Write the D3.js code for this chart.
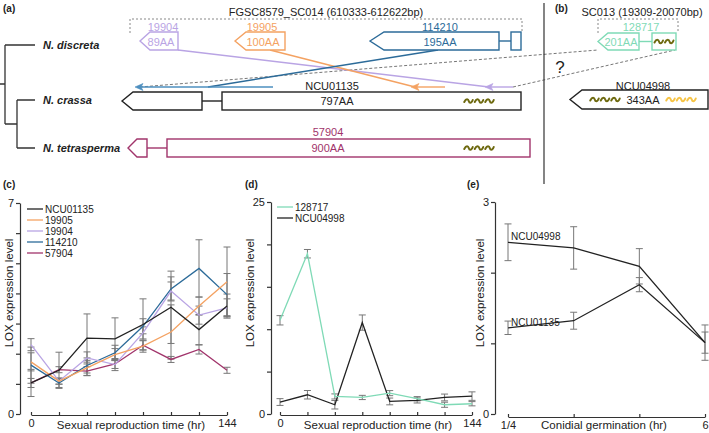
<!DOCTYPE html>
<html>
<head>
<meta charset="utf-8">
<script src="https://cdn.jsdelivr.net/npm/d3@7"></script>
<style>
  body { margin: 0; background: #fff; }
  svg { font-family: "Liberation Sans", Arial, sans-serif; }
  .axis path, .axis line { stroke: #333; }
  .axis text { font-size: 11px; fill: #222; }
</style>
</head>
<body>
<div id="fig"></div>
<script>
// ---------- data ----------
// panel (c): sexual reproduction, 8 time points from 0 to 144 hr
const cPoints = [0, 1, 2, 3, 4, 5, 6, 7];
const cTickLabels = ["0", "144"];
const cNames = ["NCU01135", "19905", "19904", "114210", "57904"];
const cNCU01135 = [1.03, 1.45, 2.52, 2.49, 2.97, 3.54, 2.8, 3.58];
const c19905 = [1.73, 1.09, 1.53, 1.97, 2.25, 2.72, 3.58, 4.39];
const c19904 = [2.3, 1.09, 1.86, 1.64, 2.69, 4.08, 3.28, 3.52];
const c114210 = [1.62, 1.03, 1.61, 2.03, 2.91, 4.15, 4.83, 3.96];
const c57904 = [1.03, 1.47, 1.42, 1.66, 2.28, 1.81, 2.14, 1.45];
const cErrNCU01135 = [0.45, 0.6, 0.8, 0.7, 0.85, 1.2, 0.5, 0.4];
const cErr19905 = [0.3, 0.1, 0.25, 0.2, 0.2, 0.9, 0.3, 1.15];
const cErr19904 = [0.2, 0.1, 0.2, 0.2, 0.2, 0.3, 0.3, 0.3];
const cErr114210 = [0.6, 0.15, 0.25, 0.25, 0.25, 0.4, 0.95, 0.7];
const cErr57904 = [0.15, 0.1, 0.15, 0.15, 0.15, 0.1, 0.15, 0.1];

// panel (d)
const dPoints = [0, 1, 2, 3, 4, 5, 6, 7];
const dTickLabels = ["0", "144"];
const dNames = ["128717", "NCU04998"];
const d128717 = [11.05, 18.9, 2.07, 1.95, 2.46, 1.8, 1.09, 1.21];
const dNCU04998 = [1.41, 2.27, 1.09, 10.78, 1.48, 1.6, 1.95, 2.11];
const dErr128717 = [0.55, 0.5, 0.3, 0.25, 0.3, 0.25, 0.3, 0.25];
const dErrNCU04998 = [0.4, 0.5, 0.5, 0.9, 0.4, 0.3, 0.4, 0.5];

// panel (e): conidial germination
const ePoints = [0, 1, 2, 3];
const eTickLabels = ["1/4", "6"];
const eNames = ["NCU04998", "NCU01135"];
const eNCU04998 = [2.43, 2.35, 2.09, 1.01];
const eNCU01135 = [1.22, 1.32, 1.83, 1.01];
const eErrNCU04998 = [0.26, 0.3, 0.25, 0.25];
const eErrNCU01135 = [0.095, 0.12, 0.1, 0.15];

// gene diagram labels
const species = ["N. discreta", "N. crassa", "N. tetrasperma"];
const geneIds = ["19904", "19905", "114210", "NCU01135", "57904", "128717", "NCU04998"];
const geneLengths = ["89AA", "100AA", "195AA", "797AA", "900AA", "201AA", "343AA"];

// ---------- layout ----------
const W = 709, H = 433;
const svg = d3.select("#fig").append("svg").attr("width", W).attr("height", H);

const col = {
  black: "#222",
  purple: "#b9a4e4",
  orange: "#f4a262",
  blue: "#2c6b99",
  lightblue: "#4d8fbf",
  maroon: "#a1346b",
  teal: "#7fdab6",
  olive: "#6e6a10",
  yellow: "#f6c445",
  grey: "#7a7a7a"
};

// ---------- (a) tree ----------
const tree = svg.append("g").attr("stroke", "#333").attr("stroke-width", 1.3).attr("fill", "none");
tree.append("path").attr("d", "M0,84H5M5,45V124M5,45H35M5,124H17M17,100V148M17,100H35M17,148H35");

svg.selectAll(".sp").data(species).enter().append("text")
  .attr("x", 43).attr("y", (d, i) => [49, 104, 152][i])
  .style("font-size", "11px").style("font-weight", "bold").style("font-style", "italic")
  .attr("fill", "#222").text(d => d);

const panelLabel = (x, y, t) => svg.append("text").attr("x", x).attr("y", y)
  .style("font-size", "10px").style("font-weight", "bold").attr("fill", "#222").text(t);
panelLabel(3, 12, "(a)");
panelLabel(555, 12, "(b)");
panelLabel(3, 188, "(c)");
panelLabel(245, 188, "(d)");
panelLabel(467, 188, "(e)");

// gene helpers
function arrowGene(g, tip, shoulder, right, y0, y1, color) {
  const yc = (y0 + y1) / 2;
  g.append("path")
    .attr("d", `M${tip},${yc}L${shoulder},${y0}H${right}V${y1}H${shoulder}Z`)
    .attr("fill", "#fff").attr("stroke", color).attr("stroke-width", 1.4);
}
function rectGene(g, x0, x1, y0, y1, color) {
  g.append("rect").attr("x", x0).attr("y", y0).attr("width", x1 - x0).attr("height", y1 - y0)
    .attr("fill", "#fff").attr("stroke", color).attr("stroke-width", 1.4);
}
function connector(g, x0, x1, y, color) {
  g.append("line").attr("x1", x0).attr("x2", x1).attr("y1", y).attr("y2", y)
    .attr("stroke", color).attr("stroke-width", 1.4);
}
function label(g, x, y, t, color, size) {
  g.append("text").attr("x", x).attr("y", y).attr("text-anchor", "middle")
    .style("font-size", (size || 11) + "px").attr("fill", color).text(t);
}
// row of little tilde-shaped waves (domain marks)
function wave(g, x, y, color, n) {
  n = n || 3;
  const w = 10.5, a = 2;
  const x0 = x - n * w / 2;
  let d = "";
  for (let k = 0; k < n; k++) {
    const s = x0 + k * w + 1;
    d += `M${s},${y + 1}C${s + 2},${y - a - 1} ${s + 4},${y - a} ${s + 4.5},${y}` +
         `S${s + 7},${y + a + 1} ${s + 8.5},${y - 1}`;
  }
  g.append("path").attr("d", d).attr("fill", "none").attr("stroke", color)
    .attr("stroke-width", 2).attr("stroke-linecap", "round");
}
function leftArrow(g, x1, x0, y, color) {
  g.append("line").attr("x1", x1).attr("x2", x0 + 4).attr("y1", y).attr("y2", y)
    .attr("stroke", color).attr("stroke-width", 1.4);
  g.append("path").attr("d", `M${x0},${y}L${x0 + 8},${y - 3.5}L${x0 + 6},${y}L${x0 + 8},${y + 3.5}Z`)
    .attr("fill", color).attr("stroke", color).attr("stroke-width", 0.6);
}

const gA = svg.append("g");

// dashed region brackets
gA.append("path").attr("d", "M130,33V19H522V33").attr("fill", "none")
  .attr("stroke", "#888").attr("stroke-dasharray", "2,2");
label(gA, 326, 16, "FGSC8579_SC014 (610333-612622bp)", "#222");

// cross-species mapping lines
const lines = gA.append("g").attr("fill", "none");
lines.append("line").attr("x1", 140).attr("y1", 87).attr("x2", 598).attr("y2", 50)
  .attr("stroke", "#777").attr("stroke-dasharray", "3,2");
lines.append("line").attr("x1", 513).attr("y1", 87).attr("x2", 675).attr("y2", 50)
  .attr("stroke", "#777").attr("stroke-dasharray", "3,2");
lines.append("line").attr("x1", 178).attr("y1", 50).attr("x2", 489).attr("y2", 87)
  .attr("stroke", col.purple).attr("stroke-width", 1.5);
lines.append("line").attr("x1", 270).attr("y1", 50).attr("x2", 415).attr("y2", 87)
  .attr("stroke", col.orange).attr("stroke-width", 1.5);
lines.append("line").attr("x1", 438).attr("y1", 50).attr("x2", 208).attr("y2", 87)
  .attr("stroke", col.blue).attr("stroke-width", 1.5);
leftArrow(gA, 513, 485, 87, col.purple);
leftArrow(gA, 445, 411, 87, col.orange);
leftArrow(gA, 273, 135, 87, col.lightblue);

// N. discreta genes
arrowGene(gA, 140, 150, 178, 32, 50, col.purple);
label(gA, 163, 31, geneIds[0], col.purple);
label(gA, 161, 46, geneLengths[0], col.purple);
arrowGene(gA, 235, 246, 285, 32, 50, col.orange);
label(gA, 262, 31, geneIds[1], col.orange);
label(gA, 263, 46, geneLengths[1], col.orange);
arrowGene(gA, 370, 384, 499, 32, 50, col.blue);
connector(gA, 499, 511, 41, col.blue);
rectGene(gA, 511, 521, 32, 50, col.blue);
label(gA, 440, 31, geneIds[2], col.blue);
label(gA, 440, 46, geneLengths[2], col.blue);

// N. crassa gene
arrowGene(gA, 122, 133, 202, 92, 110, "#222");
connector(gA, 202, 222, 101, "#222");
rectGene(gA, 222, 521, 92, 110, "#222");
label(gA, 332, 90, geneIds[3], "#222");
label(gA, 337, 105, geneLengths[3], "#222");
wave(gA, 479, 101, col.olive);

// N. tetrasperma gene
arrowGene(gA, 128, 137, 147, 139, 157, col.maroon);
connector(gA, 147, 167, 148, col.maroon);
rectGene(gA, 167, 530, 139, 157, col.maroon);
label(gA, 328, 136, geneIds[4], col.maroon);
label(gA, 328, 152, geneLengths[4], col.maroon);
wave(gA, 479, 148, col.olive);

// separator
svg.append("line").attr("x1", 544).attr("x2", 544).attr("y1", 3).attr("y2", 184)
  .attr("stroke", "#333").attr("stroke-width", 1.2);

// ---------- (b) ----------
const gB = svg.append("g");
label(gB, 642, 16, "SC013 (19309-20070bp)", "#222");
gB.append("path").attr("d", "M598,33V19H678V33").attr("fill", "none")
  .attr("stroke", "#888").attr("stroke-dasharray", "2,2");
label(gB, 641, 31, geneIds[5], col.teal);
arrowGene(gB, 598, 608, 639, 33, 50, col.teal);
label(gB, 621, 46, geneLengths[5], col.teal);
connector(gB, 639, 652, 41.5, col.teal);
rectGene(gB, 652, 676, 33, 50, col.teal);
wave(gB, 664, 41.5, col.olive, 2);
gB.append("text").attr("x", 560).attr("y", 73).attr("text-anchor", "middle")
  .style("font-size", "17px").attr("fill", "#222").text("?");
label(gB, 643, 90, geneIds[6], "#222");
arrowGene(gB, 570, 582, 708, 90, 109, "#222");
wave(gB, 605, 99.5, col.olive);
label(gB, 643, 103.5, geneLengths[6], "#222");
wave(gB, 681, 99.5, col.yellow);

// ---------- line charts ----------
function chart(opt) {
  const g = svg.append("g");
  const x = d3.scalePoint().domain(opt.points).range(opt.xr);
  const y = d3.scaleLinear().domain([0, opt.ymax]).range([414, opt.ytop]);

  const yAxis = d3.axisLeft(y).tickValues(d3.range(0, opt.ymax + 0.001, opt.ystep))
    .tickSize(4).tickSizeOuter(0).tickPadding(2)
    .tickFormat(d => (d === 0 || d === opt.ymax) ? d : "");
  g.append("g").attr("class", "axis").attr("transform", `translate(${opt.yx},0)`).call(yAxis)
    .selectAll("path, line").attr("stroke-width", 1.2);

  const xAxis = d3.axisBottom(x).tickSizeInner(-3).tickSizeOuter(0).tickPadding(4)
    .tickFormat((d, i) => i === 0 ? opt.xlabels[0] : (i === opt.points.length - 1 ? opt.xlabels[1] : ""));
  g.append("g").attr("class", "axis").attr("transform", `translate(0,${opt.xy})`).call(xAxis)
    .selectAll("path, line").attr("stroke-width", 1.2);

  g.append("text").attr("transform", `translate(${opt.ylx},${293}) rotate(-90)`)
    .attr("text-anchor", "middle").style("font-size", "11.5px").attr("fill", "#222")
    .text("LOX expression level");
  g.append("text").attr("x", opt.xlx).attr("y", 429).attr("text-anchor", "middle")
    .style("font-size", "11.5px").attr("fill", "#222").text(opt.xtitle);

  const line = d3.line().x((d, i) => x(opt.points[i])).y(d => y(d));
  opt.series.forEach(s => {
    const eb = g.append("g").attr("stroke", "#777").attr("stroke-width", 1);
    s.values.forEach((v, i) => {
      const cx = x(opt.points[i]), lo = y(v - s.err[i]), hi = y(v + s.err[i]);
      eb.append("line").attr("x1", cx).attr("x2", cx).attr("y1", lo).attr("y2", hi);
      eb.append("line").attr("x1", cx - 3.5).attr("x2", cx + 3.5).attr("y1", lo).attr("y2", lo);
      eb.append("line").attr("x1", cx - 3.5).attr("x2", cx + 3.5).attr("y1", hi).attr("y2", hi);
    });
  });
  opt.series.slice().reverse().forEach(s => {
    g.append("path").datum(s.values).attr("d", line).attr("fill", "none")
      .attr("stroke", s.color).attr("stroke-width", 1.3);
  });
  return { g, x, y };
}

// (c)
const cColors = [col.black, col.orange, col.purple, col.blue, col.maroon];
const cVals = [cNCU01135, c19905, c19904, c114210, c57904];
const cErrs = [cErrNCU01135, cErr19905, cErr19904, cErr114210, cErr57904];
const C = chart({
  points: cPoints, xr: [31, 227], xy: 415, xlabels: cTickLabels,
  ymax: 7, ystep: 1, ytop: 203, yx: 20, ylx: 13, xlx: 131,
  xtitle: "Sexual reproduction time (hr)",
  series: cNames.map((n, i) => ({ name: n, values: cVals[i], err: cErrs[i], color: cColors[i] }))
});
const cLeg = svg.append("g").selectAll("g").data(cNames).enter().append("g")
  .attr("transform", (d, i) => `translate(27,${209 + i * 11})`);
cLeg.append("line").attr("x2", 16).attr("stroke", (d, i) => cColors[i]).attr("stroke-width", 1.3);
cLeg.append("text").attr("x", 18).attr("y", 3.5).style("font-size", "10px").attr("fill", "#222").text(d => d);

// (d)
const dColors = [col.teal, col.black];
const D = chart({
  points: dPoints, xr: [280, 472], xy: 415, xlabels: dTickLabels,
  ymax: 25, ystep: 5, ytop: 202, yx: 271, ylx: 254, xlx: 378,
  xtitle: "Sexual reproduction time (hr)",
  series: [
    { name: dNames[0], values: d128717, err: dErr128717, color: dColors[0] },
    { name: dNames[1], values: dNCU04998, err: dErrNCU04998, color: dColors[1] }
  ]
});
const dLeg = svg.append("g").selectAll("g").data(dNames).enter().append("g")
  .attr("transform", (d, i) => `translate(277,${207 + i * 11})`);
dLeg.append("line").attr("x2", 16).attr("stroke", (d, i) => dColors[i]).attr("stroke-width", 1.3);
dLeg.append("text").attr("x", 18).attr("y", 3.5).style("font-size", "10px").attr("fill", "#222").text(d => d);

// (e)
const E = chart({
  points: ePoints, xr: [508, 705], xy: 417, xlabels: eTickLabels,
  ymax: 3, ystep: 1, ytop: 202, yx: 495, ylx: 484, xlx: 604,
  xtitle: "Conidial germination (hr)",
  series: [
    { name: eNames[0], values: eNCU04998, err: eErrNCU04998, color: col.black },
    { name: eNames[1], values: eNCU01135, err: eErrNCU01135, color: col.black }
  ]
});
E.g.append("text").attr("x", 511).attr("y", E.y(eNCU04998[0]) - 2).style("font-size", "10px")
  .attr("fill", "#222").text(eNames[0]);
E.g.append("text").attr("x", 511).attr("y", E.y(eNCU01135[0]) - 2).style("font-size", "10px")
  .attr("fill", "#222").text(eNames[1]);
</script>
</body>
</html>
